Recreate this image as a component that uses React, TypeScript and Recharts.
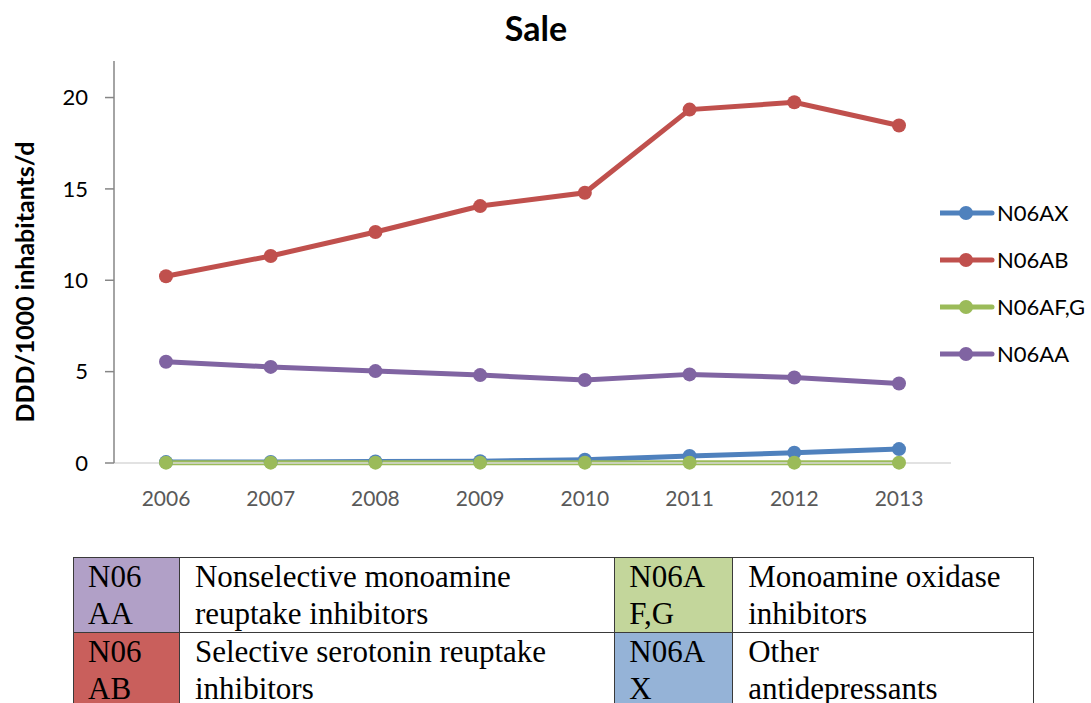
import React from 'react';
import { LineChart, Line, XAxis, YAxis } from 'recharts';

const years = ['2006', '2007', '2008', '2009', '2010', '2011', '2012', '2013'];
const n06ax = [0.05, 0.06, 0.08, 0.1, 0.18, 0.38, 0.56, 0.76];
const n06ab = [10.22, 11.33, 12.64, 14.06, 14.79, 19.34, 19.74, 18.47];
const n06afg = [0.02, 0.02, 0.02, 0.02, 0.02, 0.02, 0.02, 0.02];
const n06aa = [5.54, 5.26, 5.03, 4.81, 4.54, 4.85, 4.68, 4.35];
const yTicks = [0, 5, 10, 15, 20];

const series = [
  { key: 'N06AX', values: n06ax, color: '#4F81BD' },
  { key: 'N06AB', values: n06ab, color: '#C0504D' },
  { key: 'N06AF,G', values: n06afg, color: '#9BBB59' },
  { key: 'N06AA', values: n06aa, color: '#8064A2' },
];

const tableRows = [
  [
    { code: ['N06', 'AA'], bg: '#B1A0C7', text: ['Nonselective monoamine', 'reuptake inhibitors'] },
    { code: ['N06A', 'F,G'], bg: '#C3D69B', text: ['Monoamine oxidase', 'inhibitors'] },
  ],
  [
    { code: ['N06', 'AB'], bg: '#C95F5C', text: ['Selective serotonin reuptake', 'inhibitors'] },
    { code: ['N06A', 'X'], bg: '#95B3D7', text: ['Other', 'antidepressants'] },
  ],
];

const data = years.map((year, i) => {
  const row: Record<string, number | string> = { year };
  series.forEach(s => { row[s.key] = s.values[i]; });
  return row;
});

const FONT = 'Lato, "Open Sans", sans-serif';
const border = '1.5px solid #3a3a3a';

function YLabel(props: any) {
  const vb = props.viewBox || {};
  const x = 24;
  const y = 282;
  return (
    <text x={x} y={y} transform={`rotate(-90, ${x}, ${y})`} textAnchor="middle"
      dominantBaseline="central" fontFamily={FONT} fontSize={25} fontWeight={700} fill="#000">
      DDD/1000 inhabitants/d
    </text>
  );
}

export default function App() {
  return (
    <div style={{ position: 'absolute', left: 0, top: 0, width: 1091, height: 703, overflow: 'hidden', background: '#fff' }}>
      <div style={{ position: 'absolute', left: 436, top: 7, width: 200, textAlign: 'center', fontFamily: FONT, fontWeight: 700, fontSize: 34, color: '#000' }}>
        Sale
      </div>
      <LineChart width={1091} height={520} data={data} margin={{ top: 61, right: 140, bottom: 17, left: 14 }}>
        <XAxis
          dataKey="year"
          padding={{ left: 52, right: 52 }}
          tickLine={false}
          axisLine={{ stroke: '#D9D9D9', strokeWidth: 1.5 }}
          tick={{ fill: '#595959', fontSize: 21, fontFamily: FONT }}
          tickMargin={22}
          height={40}
        />
        <YAxis
          width={100}
          domain={[0, 22]}
          ticks={yTicks}
          tickSize={9}
          tickMargin={17}
          tickLine={{ stroke: '#868686', strokeWidth: 1.5 }}
          axisLine={{ stroke: '#868686', strokeWidth: 1.5 }}
          tick={{ fill: '#000', fontSize: 22, fontFamily: FONT }}
          label={{ content: YLabel }}
        />
        {series.map(s => (
          <Line
            key={s.key}
            dataKey={s.key}
            type="linear"
            stroke={s.color}
            strokeWidth={5}
            dot={{ r: 7, fill: s.color, stroke: 'none' }}
            activeDot={false}
            isAnimationActive={false}
          />
        ))}
      </LineChart>
      <div style={{ position: 'absolute', left: 940, top: 189, fontFamily: FONT, fontSize: 22, color: '#000' }}>
        {series.map(s => (
          <div key={s.key} style={{ display: 'flex', alignItems: 'center', height: 47 }}>
            <svg width={56} height={20} style={{ display: 'block' }}>
              <line x1={0} y1={10} x2={52} y2={10} stroke={s.color} strokeWidth={5} strokeLinecap="round" />
              <circle cx={26} cy={10} r={7} fill={s.color} />
            </svg>
            <span style={{ marginLeft: 1 }}>{s.key}</span>
          </div>
        ))}
      </div>
      <table style={{ position: 'absolute', left: 73, top: 557, width: 961, borderCollapse: 'collapse', fontFamily: '"Liberation Serif", "Times New Roman", serif', fontSize: 31, lineHeight: '37px', color: '#000' }}>
        <colgroup>
          <col style={{ width: 106 }} />
          <col style={{ width: 436 }} />
          <col style={{ width: 118 }} />
          <col style={{ width: 301 }} />
        </colgroup>
        <tbody>
          {tableRows.map((row, ri) => (
            <tr key={ri} style={{ height: 75 }}>
              {row.flatMap((cell, ci) => [
                <td key={`c${ci}`} style={{ background: cell.bg, border, padding: '0 0 0 14px', verticalAlign: 'top' }}>
                  {cell.code[0]}<br />{cell.code[1]}
                </td>,
                <td key={`t${ci}`} style={{ border, padding: '0 0 0 15px', verticalAlign: 'top' }}>
                  {cell.text[0]}<br />{cell.text[1]}
                </td>,
              ])}
            </tr>
          ))}
        </tbody>
      </table>
    </div>
  );
}
